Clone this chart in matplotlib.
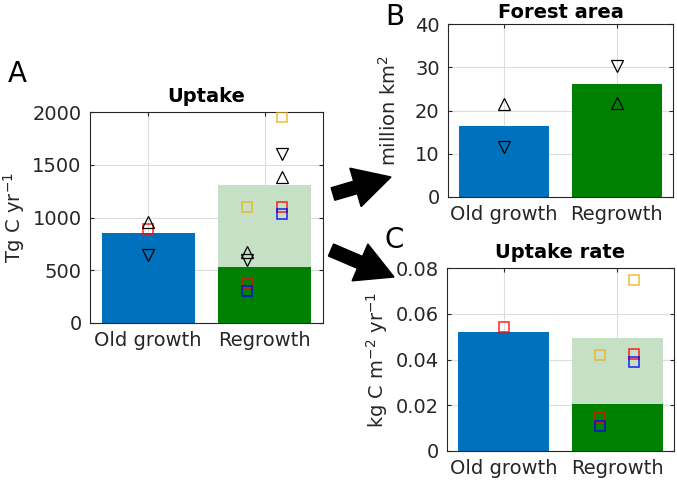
import matplotlib
matplotlib.use('Agg')
import matplotlib.pyplot as plt
from matplotlib.patches import FancyArrow

# categorias e valores
categorias = ['Old growth', 'Regrowth']

# painel A - Uptake (Tg C / ano)
uptake_old = 855
uptake_regrow_lo = 535
uptake_regrow_hi = 1305
# valores dos marcadores: [old growth, regrowth esquerda, regrowth direita]
uptake_tri_up = [960, 670, 1381]
uptake_tri_down = [640, 597, 1602]
uptake_sq_red = [888, 382, 1102]
uptake_sq_blue = [None, 300, 1035]
uptake_sq_yellow = [None, 1102, 1955]

# painel B - Forest area (milhões km2)
area_old = 16.4
area_regrow = 26.2
area_tri_up = [21.5, 21.7]
area_tri_down = [11.5, 30.4]

# painel C - Uptake rate (kg C / m2 / ano)
rate_old = 0.0519
rate_regrow_lo = 0.0205
rate_regrow_hi = 0.0496
rate_sq_red = [0.0543, 0.0143, 0.0423]
rate_sq_blue = [None, 0.0109, 0.0390]
rate_sq_yellow = [None, 0.0420, 0.0746]

azul = '#0072BD'
verde = '#008000'
verde_claro = '#c6e0c6'
cinza = '#262626'

plt.rcParams['font.family'] = ['DejaVu Sans']
plt.rcParams['font.size'] = 14

W, H = 677, 482
fig = plt.figure(figsize=(W / 100, H / 100), dpi=100)


def eixo(esq, dir, topo, base):
    ax = fig.add_axes([esq / W, 1 - base / H, (dir - esq) / W, (base - topo) / H])
    ax.set_axisbelow(True)
    ax.grid(True, color='#dddddd', linewidth=0.8)
    ax.tick_params(direction='in', length=3, width=0.8, colors=cinza,
                   top=True, right=True, labelsize=14, pad=6)
    for s in ax.spines.values():
        s.set_color(cinza)
        s.set_linewidth(0.8)
    ax.set_xlim(0.5, 2.5)
    ax.set_xticks([1, 2])
    ax.set_xticklabels(categorias)
    return ax


def quadrados(ax, xs, vals, cor):
    for x, v in zip(xs, vals):
        if v is not None:
            ax.plot(x, v, 's', mfc='none', mec=cor, ms=6.5, mew=1.2, alpha=0.8, zorder=5)


def triangulos(ax, xs, vals, marcador):
    for x, v in zip(xs, vals):
        if v is not None:
            ax.plot(x, v, marcador, mfc='none', mec='black', ms=8.5, mew=0.9, zorder=6)


xs3 = [1, 1.85, 2.15]

# painel A
axA = eixo(90, 323, 112, 323)
axA.bar([1], [uptake_old], width=0.8, color=azul, zorder=2)
axA.bar([2], [uptake_regrow_hi], width=0.8, color=verde_claro, zorder=2)
axA.bar([2], [uptake_regrow_lo], width=0.8, color=verde, zorder=3)
quadrados(axA, xs3, uptake_sq_yellow, '#EDB120')
quadrados(axA, xs3, uptake_sq_red, '#ff0000')
quadrados(axA, xs3, uptake_sq_blue, '#0000ff')
triangulos(axA, xs3, uptake_tri_up, '^')
triangulos(axA, xs3, uptake_tri_down, 'v')
axA.set_ylim(0, 2000)
axA.set_yticks([0, 500, 1000, 1500, 2000])
axA.set_ylabel('Tg C yr$^{\\mathregular{-1}}$', color=cinza)
axA.yaxis.set_label_coords(-0.27, 0.5)
axA.set_title('Uptake', fontweight='bold', fontsize=14, pad=7)

# painel B
axB = eixo(448, 673, 24, 197)
axB.bar([1], [area_old], width=0.8, color=azul, zorder=2)
axB.bar([2], [area_regrow], width=0.8, color=verde, zorder=2)
triangulos(axB, [1, 2], area_tri_up, '^')
triangulos(axB, [1, 2], area_tri_down, 'v')
axB.set_ylim(0, 40)
axB.set_yticks([0, 10, 20, 30, 40])
axB.set_ylabel('million km$^{\\mathregular{2}}$', color=cinza)
axB.yaxis.set_label_coords(-0.215, 0.5)
axB.set_title('Forest area', fontweight='bold', fontsize=14, pad=4)

# painel C
axC = eixo(447, 674, 268, 451)
axC.bar([1], [rate_old], width=0.8, color=azul, zorder=2)
axC.bar([2], [rate_regrow_hi], width=0.8, color=verde_claro, zorder=2)
axC.bar([2], [rate_regrow_lo], width=0.8, color=verde, zorder=3)
quadrados(axC, xs3, rate_sq_yellow, '#EDB120')
quadrados(axC, xs3, rate_sq_red, '#ff0000')
quadrados(axC, xs3, rate_sq_blue, '#0000ff')
axC.set_ylim(0, 0.08)
axC.set_yticks([0, 0.02, 0.04, 0.06, 0.08])
axC.set_yticklabels(['0', '0.02', '0.04', '0.06', '0.08'])
axC.set_ylabel('kg C m$^{\\mathregular{-2}}$ yr$^{\\mathregular{-1}}$', color=cinza)
axC.yaxis.set_label_coords(-0.25, 0.5)
axC.set_title('Uptake rate', fontweight='bold', fontsize=14, pad=7)

# letras dos paineis
fig.text(8 / W, 1 - 82 / H, 'A', fontsize=20, va='baseline')
fig.text(385 / W, 1 - 25 / H, 'B', fontsize=20, va='baseline')
fig.text(385 / W, 1 - 248 / H, 'C', fontsize=20, va='baseline')


# setas (em polegadas para não deformar)
def seta(x0, y0, x1, y1):
    a = FancyArrow(x0 / 100, (H - y0) / 100, (x1 - x0) / 100, -(y1 - y0) / 100,
                   width=0.13, head_width=0.40, head_length=0.37,
                   length_includes_head=True, color='black',
                   transform=fig.dpi_scale_trans)
    fig.patches.append(a)


seta(333, 194, 391, 177)
seta(331, 250, 394, 277)

fig.savefig('out.png', dpi=100)
